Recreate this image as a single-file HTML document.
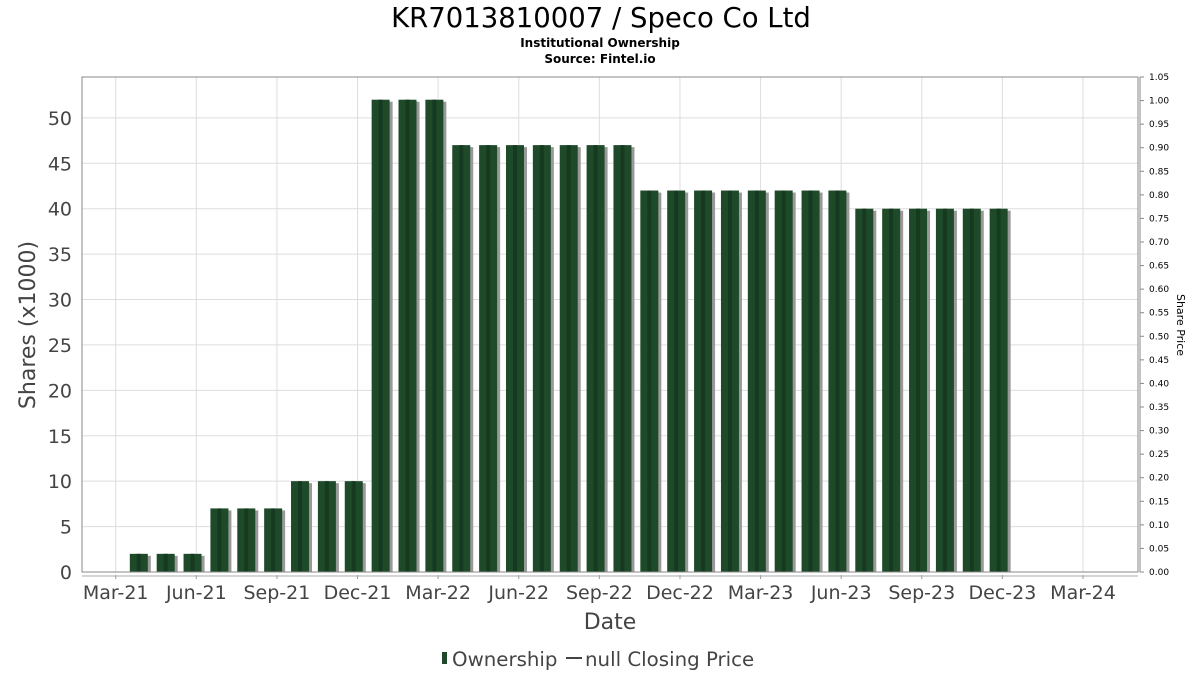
<!DOCTYPE html>
<html><head><meta charset="utf-8"><style>
body{margin:0;background:#fff;font-family:"DejaVu Sans","Liberation Sans",sans-serif}
svg text{font-family:"DejaVu Sans","Liberation Sans",sans-serif}
</style></head><body>
<svg id="c" width="1200" height="675">
<text x="601" y="27" font-size="27.5" text-anchor="middle" fill="#000">KR7013810007 / Speco Co Ltd</text>
<text x="600" y="47" font-size="12" font-weight="bold" text-anchor="middle">Institutional Ownership</text>
<text x="600" y="63" font-size="12" font-weight="bold" text-anchor="middle">Source: Fintel.io</text>
<g id="grid"></g><g id="bars"></g><g id="axes"></g>
<text transform="translate(35,325) rotate(-90)" font-size="22" fill="#444" text-anchor="middle">Shares (x1000)</text>
<text transform="translate(1177,325) rotate(90)" font-size="11" text-anchor="middle">Share Price</text>
<text x="610" y="629" font-size="22" fill="#444" text-anchor="middle">Date</text>
<g>
<rect x="442" y="652" width="5" height="12" fill="#1e4a2a"/>
<text x="452" y="666" font-size="19.8" fill="#444">Ownership</text>
<line x1="566" y1="658" x2="582" y2="658" stroke="#444" stroke-width="2"/>
<text x="585" y="666" font-size="19.8" fill="#444">null Closing Price</text>
</g>
</svg>
<script>
const xTickLabels=["Mar-21","Jun-21","Sep-21","Dec-21","Mar-22","Jun-22","Sep-22","Dec-22","Mar-23","Jun-23","Sep-23","Dec-23","Mar-24"];
const barMonths=[1,2,3,4,5,6,7,8,9,10,11,12,13,14,15,16,17,18,19,20,21,22,23,24,25,26,27,28,29,30,31,32,33];
const shares=[2,2,2,7,7,7,10,10,10,52,52,52,47,47,47,47,47,47,47,42,42,42,42,42,42,42,42,40,40,40,40,40,40];
const leftTicks=[0,5,10,15,20,25,30,35,40,45,50];
const rightTicks=[0,0.05,0.1,0.15,0.2,0.25,0.3,0.35,0.4,0.45,0.5,0.55,0.6,0.65,0.7,0.75,0.8,0.85,0.9,0.95,1.0,1.05];
const L=82,R=1138,T=77,B=572;
const yL=v=>B-v*(B-T)/54.5;
const yR=v=>B-v*(B-T)/1.05;
const xM=m=>115.7+m*26.87;
const NS="http://www.w3.org/2000/svg";
function mk(p,tag,a){const e=document.createElementNS(NS,tag);for(const k in a)e.setAttribute(k,a[k]);document.getElementById(p).appendChild(e);return e;}
leftTicks.forEach(v=>{
 const g=mk('grid','line',{x1:L,x2:R,y1:yL(v),y2:yL(v),stroke:'#ddd'});
 
 
 const t=mk('axes','text',{x:L-10,y:yL(v)+7,'font-size':19,fill:'#444','text-anchor':'end'});t.textContent=v;
 
 
});
xTickLabels.forEach((s,i)=>{
 const x=xM(i*3);
 const g=mk('grid','line',{x1:x,x2:x,y1:T,y2:B,stroke:'#ddd'});
 
 
 mk('axes','line',{x1:x,x2:x,y1:B+3,y2:B+7,stroke:'#999'});
 const t=mk('axes','text',{x:x,y:B+27,'font-size':19,fill:'#444','text-anchor':'middle'});t.textContent=s;
 
 
});
rightTicks.forEach(v=>{
 mk('axes','line',{x1:R+2,x2:R+6,y1:yR(v),y2:yR(v),stroke:'#888'});
 const t=mk('axes','text',{x:R+11,y:yR(v)+3,'font-size':9,fill:'#000'});t.textContent=v.toFixed(2);
 
 
});
mk('axes','rect',{x:L,y:T,width:R-L,height:B-T,fill:'none',stroke:'#888'});
mk('axes','line',{x1:L,x2:R,y1:B+4,y2:B+4,stroke:'#aaa'});
mk('axes','line',{x1:R+2,x2:R+2,y1:T,y2:B,stroke:'#888'});
shares.forEach((v,i)=>{
 const cx=xM(barMonths[i]-0.14),y=yL(v),w=18;
 const s=mk('bars','rect',{x:cx-w/2+3,y:y+2,width:w,height:B-y-2,fill:'#999'});
 
 
 const b=mk('bars','rect',{x:cx-w/2,y:y,width:w,height:B-y,fill:'#1e4a2a'});
 
 
 mk('bars','rect',{x:cx-2,y:y,width:4,height:B-y,fill:'#163a20'});
});
</script>
</body></html>
